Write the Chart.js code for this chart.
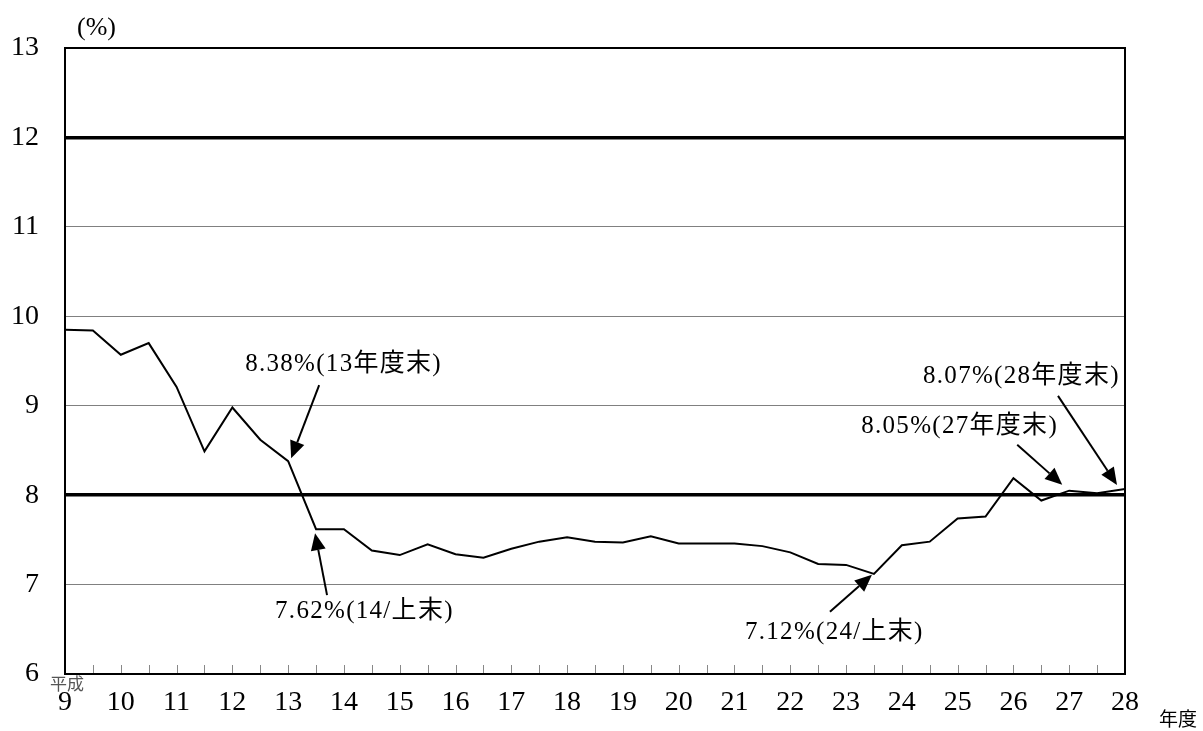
<!DOCTYPE html>
<html>
<head>
<meta charset="utf-8">
<script src="https://cdn.jsdelivr.net/npm/chart.js@4.4.1/dist/chart.umd.min.js"></script>
<style>
  body { margin: 0; background: #fff; }
  canvas { display: block; }
</style>
</head>
<body>
<canvas id="ratio-chart" width="1203" height="731"></canvas>
<script>
// Half-year points (平成 fiscal years)
const halfYears = [9, 9.5, 10, 10.5, 11, 11.5, 12, 12.5, 13, 13.5, 14, 14.5, 15, 15.5, 16, 16.5,
  17, 17.5, 18, 18.5, 19, 19.5, 20, 20.5, 21, 21.5, 22, 22.5, 23, 23.5, 24, 24.5, 25, 25.5,
  26, 26.5, 27, 27.5, 28];

// Ratio (%)
const ratios = [9.85, 9.84, 9.57, 9.70, 9.21, 8.49, 8.98, 8.62, 8.38, 7.62, 7.62, 7.38, 7.33,
  7.45, 7.34, 7.30, 7.40, 7.48, 7.53, 7.48, 7.47, 7.54, 7.46, 7.46, 7.46, 7.43, 7.36, 7.23,
  7.22, 7.12, 7.44, 7.48, 7.74, 7.76, 8.19, 7.94, 8.05, 8.02, 8.07];

// Y tick values, thick reference lines
const yTicks = [6, 7, 8, 9, 10, 11, 12, 13];
const thickLines = [8, 12];

// Callouts: text, data index, text offset, arrow tail / tip offsets (px from the point)
const noteTexts = ['8.38%(13年度末)', '7.62%(14/上末)', '7.12%(24/上末)', '8.05%(27年度末)', '8.07%(28年度末)'];
const noteIndex = [8, 9, 29, 36, 38];
const noteTextPos = [[-43, -97], [-41, 82], [-129, 59], [-208, -64], [-202, -112]];
const noteTail = [[31, -76], [11, 66], [-44, 38], [-52, -46], [-67, -93]];
const noteTip = [[3, -3], [-1, 4], [-2, 1], [-7, -6], [-8, -4]];

const SERIF = "'Liberation Serif', 'Noto Sans CJK JP', serif";

function drawArrow(ctx, x1, y1, x2, y2) {
  const ang = Math.atan2(y2 - y1, x2 - x1);
  const len = 17, half = 7.5;
  const bx = x2 - len * Math.cos(ang), by = y2 - len * Math.sin(ang);
  ctx.beginPath();
  ctx.moveTo(x1, y1);
  ctx.lineTo(bx, by);
  ctx.stroke();
  ctx.beginPath();
  ctx.moveTo(x2, y2);
  ctx.lineTo(bx + half * Math.sin(ang), by - half * Math.cos(ang));
  ctx.lineTo(bx - half * Math.sin(ang), by + half * Math.cos(ang));
  ctx.closePath();
  ctx.fill();
}

// Frame, minor ticks, unit labels and callouts
const decorPlugin = {
  id: 'decor',
  afterDraw(chart) {
    const ctx = chart.ctx;
    const area = chart.chartArea;
    const xs = chart.scales.x, ys = chart.scales.y;
    ctx.save();

    // half-year tick marks
    ctx.strokeStyle = '#888';
    ctx.lineWidth = 1;
    halfYears.forEach(v => {
      const px = Math.round(xs.getPixelForValue(v)) + 0.5;
      ctx.beginPath();
      ctx.moveTo(px, area.bottom);
      ctx.lineTo(px, area.bottom - 9);
      ctx.stroke();
    });

    // frame
    ctx.strokeStyle = '#000';
    ctx.lineWidth = 2;
    ctx.strokeRect(area.left, area.top, area.right - area.left, area.bottom - area.top);

    // unit labels
    ctx.fillStyle = '#000';
    ctx.textBaseline = 'middle';
    ctx.textAlign = 'left';
    ctx.font = '26px ' + SERIF;
    ctx.fillText('(%)', area.left + 12, area.top - 20);
    ctx.font = '19px ' + SERIF;
    ctx.fillText('年度', area.right + 34, area.bottom + 47);
    ctx.fillStyle = '#555';
    ctx.font = '17px ' + SERIF;
    ctx.textAlign = 'center';
    ctx.fillText('平成', area.left + 2, area.bottom + 12);

    // callouts
    ctx.fillStyle = '#000';
    ctx.strokeStyle = '#000';
    ctx.lineWidth = 2;
    ctx.textAlign = 'left';
    ctx.font = '25px ' + SERIF;
    if ('letterSpacing' in ctx) ctx.letterSpacing = '1.3px';
    noteTexts.forEach((t, i) => {
      const k = noteIndex[i];
      const px = xs.getPixelForValue(halfYears[k]);
      const py = ys.getPixelForValue(ratios[k]);
      ctx.fillText(t, px + noteTextPos[i][0], py + noteTextPos[i][1]);
      drawArrow(ctx, px + noteTail[i][0], py + noteTail[i][1], px + noteTip[i][0], py + noteTip[i][1]);
    });
    ctx.restore();
  }
};

const ctx = document.getElementById('ratio-chart').getContext('2d');
new Chart(ctx, {
  type: 'line',
  data: {
    datasets: [{
      data: halfYears.map((x, i) => ({ x: x, y: ratios[i] })),
      borderColor: '#000',
      borderWidth: 2,
      pointRadius: 0,
      tension: 0,
      fill: false
    }]
  },
  options: {
    responsive: false,
    animation: false,
    layout: { padding: { left: 0, right: 78, top: 48, bottom: 0 } },
    plugins: { legend: { display: false }, tooltip: { enabled: false } },
    scales: {
      x: {
        type: 'linear',
        min: 9,
        max: 28,
        afterFit(scale) { scale.height = 57; },
        grid: { display: false, drawTicks: false },
        border: { display: false },
        ticks: {
          stepSize: 1,
          padding: 12,
          color: '#000',
          font: { family: SERIF, size: 28 }
        }
      },
      y: {
        min: 6,
        max: 13,
        afterFit(scale) { scale.width = 65; },
        afterBuildTicks(scale) { scale.ticks = yTicks.map(v => ({ value: v })); },
        border: { display: false },
        grid: {
          drawTicks: false,
          color: c => {
            const v = c.tick ? c.tick.value : null;
            if (v === 6 || v === 13) return 'rgba(0,0,0,0)';
            return thickLines.includes(v) ? '#000' : '#808080';
          },
          lineWidth: c => (c.tick && thickLines.includes(c.tick.value)) ? 3.5 : 1
        },
        ticks: {
          padding: 26,
          color: '#000',
          font: { family: SERIF, size: 28 }
        }
      }
    }
  },
  plugins: [decorPlugin]
});
</script>
</body>
</html>
